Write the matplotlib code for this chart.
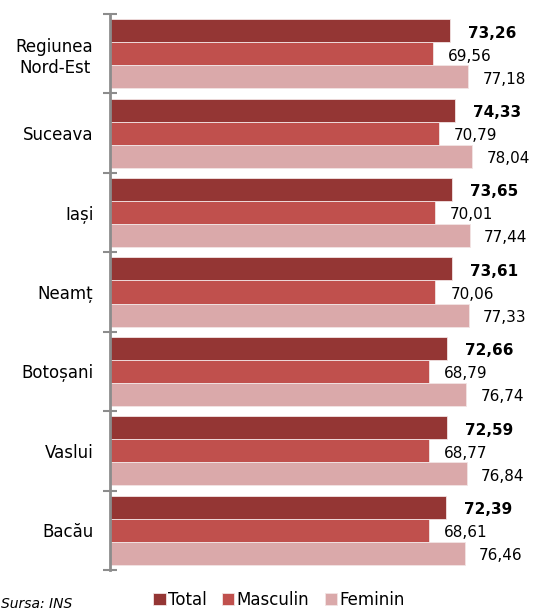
import matplotlib.pyplot as plt
import numpy as np

judete = ['Regiunea\nNord-Est', 'Suceava', 'Iași', 'Neamț', 'Botoșani', 'Vaslui', 'Bacău']
total = [73.26, 74.33, 73.65, 73.61, 72.66, 72.59, 72.39]
masculin = [69.56, 70.79, 70.01, 70.06, 68.79, 68.77, 68.61]
feminin = [77.18, 78.04, 77.44, 77.33, 76.74, 76.84, 76.46]

def fmt(v):
    return f'{v:.2f}'.replace('.', ',')

plt.rcParams['font.family'] = 'DejaVu Sans'
fig = plt.figure(figsize=(5.36, 6.11), dpi=100)
ax = fig.add_axes([110 / 536, 1 - 570 / 611, 418 / 536, 556 / 611])

y = np.arange(len(judete))
h = 0.29
series = [(total, '#943634', 'Total', -h, 'bold', 3.8),
          (masculin, '#C0504D', 'Masculin', 0, 'normal', 3.2),
          (feminin, '#DAA9AA', 'Feminin', h, 'normal', 3.0)]
for vals, col, name, off, fw, gap in series:
    ax.barh(y + off, vals, height=h, color=col, edgecolor='#f2e4e4', linewidth=0.6, label=name)
    for yi, v in zip(y, vals):
        ax.text(v + gap, yi + off + 0.03, fmt(v), va='center', ha='left', fontsize=11,
                fontweight=fw, color='black')

ax.set_xlim(0, 90)
ax.set_ylim(len(judete) - 0.5, -0.5)
ax.set_yticks(np.arange(len(judete) + 1) - 0.5)
ax.set_yticklabels([])
ax.set_yticks(y, minor=True)
ax.set_yticklabels(judete, minor=True, fontsize=12, multialignment='center')
ax.tick_params(axis='y', which='major', direction='inout', length=10, width=1.5, color='#8c8c8c')
ax.tick_params(axis='y', which='minor', length=0, pad=12)
ax.set_xticks([])
for s in ['top', 'right', 'bottom']:
    ax.spines[s].set_visible(False)
ax.spines['left'].set_color('#8c8c8c')
ax.spines['left'].set_linewidth(2)

fig.legend(loc='center', bbox_to_anchor=(279 / 536, 1 - 600 / 611), ncol=3, frameon=False,
           fontsize=12, handlelength=0.75, handleheight=0.75, handletextpad=0.15,
           columnspacing=0.9, borderaxespad=0)
fig.text(1 / 536, 1 - 604 / 611, 'Sursa: INS', fontsize=10, style='italic', va='center', ha='left')

plt.savefig('out.png', dpi=100)
plt.close()
